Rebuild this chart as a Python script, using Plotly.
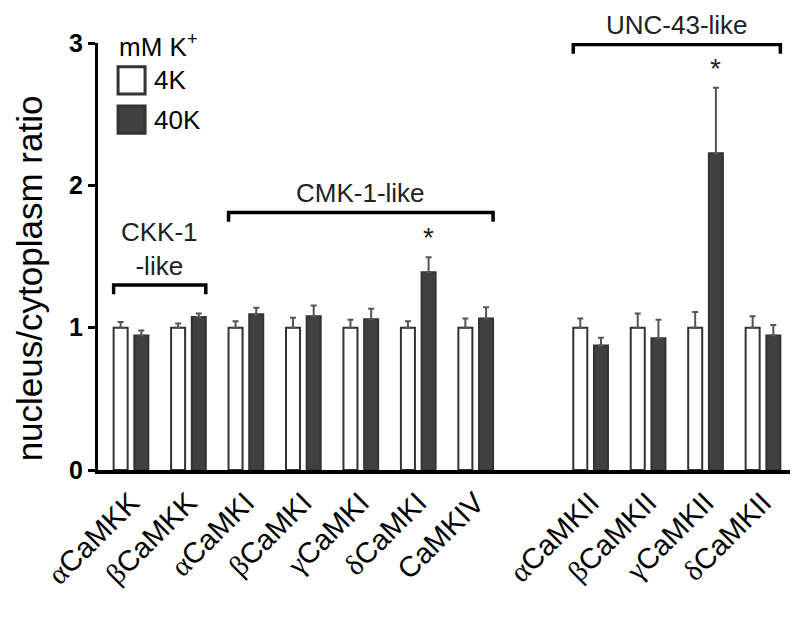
import plotly.graph_objects as go

# ---- data ----
categories = ["αCaMKK", "βCaMKK", "αCaMKI", "βCaMKI", "γCaMKI", "δCaMKI", "CaMKIV",
              "αCaMKII", "βCaMKII", "γCaMKII", "δCaMKII"]
k4_values = [1.00, 1.00, 1.00, 1.00, 1.00, 1.00, 1.00, 1.00, 1.00, 1.00, 1.00]
k4_errors = [0.04, 0.03, 0.045, 0.07, 0.055, 0.045, 0.065, 0.065, 0.10, 0.11, 0.08]
k40_values = [0.945, 1.075, 1.095, 1.08, 1.06, 1.39, 1.065, 0.875, 0.925, 2.225, 0.945]
k40_errors = [0.035, 0.025, 0.045, 0.075, 0.073, 0.105, 0.078, 0.054, 0.13, 0.46, 0.073]
significant = ["δCaMKI", "γCaMKII"]
groups = [("CKK-1<br>-like", "αCaMKK", "βCaMKK"),
          ("CMK-1-like", "αCaMKI", "CaMKIV"),
          ("UNC-43-like", "αCaMKII", "δCaMKII")]
y_ticks = [0, 1, 2, 3]
y_title = "nucleus/cytoplasm ratio"

# ---- layout helpers ----
GAP_AFTER = "CaMKIV"          # an empty slot separates CaMKII family
gap_index = categories.index(GAP_AFTER)
positions = [i + (1 if i > gap_index else 0) for i in range(len(categories))]
pos = dict(zip(categories, positions))
BAR_W = 0.244
HALF = 0.18

SANS = "Liberation Sans, Arial, sans-serif"
SERIF = "Liberation Serif, Times New Roman, serif"
greek = set("αβγδ")


def tick_label(name):
    if name[0] in greek:
        return f"<span style='font-family:{SERIF}'>{name[0]}</span>{name[1:]}"
    return name


fig = go.Figure()
fig.add_trace(go.Bar(
    x=positions, y=k4_values, name="4K", width=BAR_W, offset=-HALF - BAR_W / 2,
    marker=dict(color="white", line=dict(color="#333333", width=2)),
    error_y=dict(type="data", array=k4_errors, arrayminus=[0] * len(k4_errors),
                 symmetric=False, color="#555555", thickness=2, width=3),
    showlegend=False))
fig.add_trace(go.Bar(
    x=positions, y=k40_values, name="40K", width=BAR_W, offset=HALF - BAR_W / 2,
    marker=dict(color="#404040", line=dict(color="#333333", width=2)),
    error_y=dict(type="data", array=k40_errors, arrayminus=[0] * len(k40_errors),
                 symmetric=False, color="#555555", thickness=2, width=3),
    showlegend=False))

shapes = []
annotations = []

# group brackets
bracket_y = {"CKK-1<br>-like": 1.30, "CMK-1-like": 1.81, "UNC-43-like": 2.99}
tip = 0.065
for label, first, last in groups:
    x0 = pos[first] - HALF - BAR_W / 2
    x1 = pos[last] + HALF + BAR_W / 2
    yb = bracket_y[label]
    shapes.append(dict(type="path", xref="x", yref="y",
                       path=f"M {x0},{yb - tip} L {x0},{yb} L {x1},{yb} L {x1},{yb - tip}",
                       line=dict(color="black", width=3.5)))
    annotations.append(dict(x=(x0 + x1) / 2, y=yb, xref="x", yref="y", text=label,
                            showarrow=False, yanchor="bottom", yshift=2,
                            font=dict(family=SANS, size=26, color="#222222")))

# significance asterisks
for name in significant:
    i = categories.index(name)
    annotations.append(dict(x=pos[name] + HALF, y=k40_values[i] + k40_errors[i],
                            xref="x", yref="y", text="*", showarrow=False,
                            yanchor="bottom", yshift=2,
                            font=dict(family=SANS, size=28, color="#222222")))

# y-axis title (as rotated text so it can sit slightly low, as in the original)
annotations.append(dict(x=-0.099, y=0.45, xref="paper", yref="paper",
                        text=y_title, textangle=-90, showarrow=False,
                        xanchor="center", yanchor="middle",
                        font=dict(family=SANS, size=35, color="black")))

# legend (drawn, so the symbols can be large)
legend_items = [("4K", "white"), ("40K", "#404040")]
annotations.append(dict(x=0.027, y=0.995, xref="paper", yref="paper",
                        text="mM K<sup>+</sup>", showarrow=False,
                        xanchor="left", yanchor="middle",
                        font=dict(family=SANS, size=26, color="black")))
box_top = 0.9445
box_h = 0.064
box_step = 0.092
for k, (lbl, col) in enumerate(legend_items):
    top = box_top - k * box_step
    shapes.append(dict(type="rect", xref="paper", yref="paper",
                       x0=0.029, x1=0.068, y0=top - box_h, y1=top,
                       fillcolor=col, line=dict(color="#333333", width=3)))
    annotations.append(dict(x=0.078, y=top - box_h / 2, xref="paper", yref="paper",
                            text=lbl, showarrow=False, xanchor="left", yanchor="middle",
                            font=dict(family=SANS, size=26, color="black")))

# the page adds an 8px top offset, so the figure is 8px shorter
fig.update_layout(
    width=800, height=612,
    margin=dict(l=90, r=18, t=35, b=150),
    paper_bgcolor="white", plot_bgcolor="white",
    barmode="overlay",
    shapes=shapes, annotations=annotations,
    font=dict(family=SANS, color="black"),
)
fig.update_xaxes(
    range=[-0.574, positions[-1] + 0.47],
    tickmode="array", tickvals=positions,
    ticktext=[tick_label(c) for c in categories],
    tickangle=-45, tickfont=dict(family=SANS, size=29, color="black"),
    ticks="", showline=True, linecolor="black", linewidth=4,
    showgrid=False, zeroline=False, automargin=False,
)
fig.update_yaxes(
    range=[0, 3], tickvals=y_ticks,
    tickfont=dict(family=SANS, size=25, color="black", weight="bold"),
    ticks="outside", ticklen=7, tickwidth=3, tickcolor="black",
    showline=True, linecolor="black", linewidth=3,
    showgrid=False, zeroline=False, automargin=False,
)

fig.write_html("out.html")
